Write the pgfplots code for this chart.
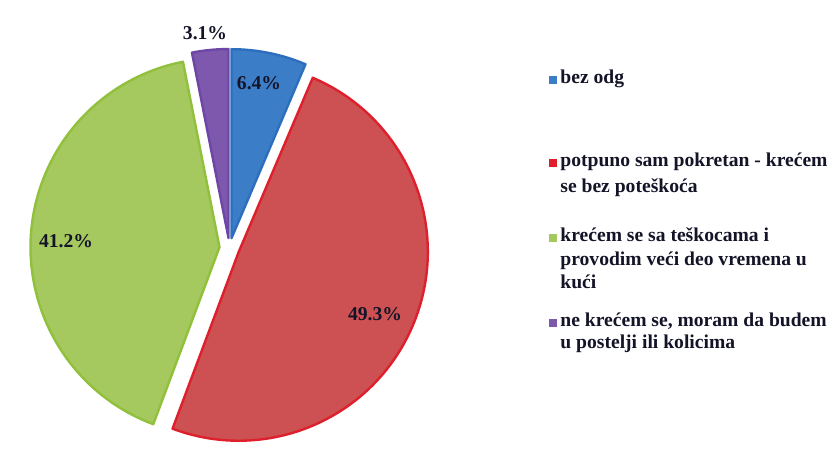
\documentclass[border=0pt]{standalone}
\usepackage{pgfplots}
\pgfplotsset{compat=1.18}
\usepackage{fontspec}
\setmainfont{Liberation Serif}
\usetikzlibrary{calc}
\definecolor{cblue}{RGB}{60,125,200}
\definecolor{cblueb}{RGB}{45,110,190}
\definecolor{cred}{RGB}{205,80,82}
\definecolor{credb}{RGB}{222,32,44}
\definecolor{cgreen}{RGB}{165,200,95}
\definecolor{cgreenb}{RGB}{145,192,60}
\definecolor{cpurple}{RGB}{125,88,172}
\definecolor{cpurpleb}{RGB}{110,70,165}
% pie geometry (in axis units = pixels)
\def\cx{229.5}
\def\cy{209}
\newcommand{\slice}[4]{%
  \pgfmathsetmacro\sa{90-3.6*(#1)}%
  \pgfmathsetmacro\sb{90-3.6*(#1+#2)}%
  \pgfmathsetmacro\sm{(\sa+\sb)/2}%
  \edef\temp{\noexpand\filldraw[fill=#3,draw=#4,line width=1.2pt,line join=round]
    ($(axis cs:\cx,\cy)+(\sm:5pt)$) -- ++(\sa:94.5pt)
    arc[start angle=\sa,end angle=\sb,radius=94.5pt] -- cycle;}%
  \temp}
\begin{document}
\begin{tikzpicture}
\begin{axis}[
  x=0.5pt, y=0.5pt,
  xmin=0, xmax=830, ymin=0, ymax=457,
  hide axis, clip=false,
]
\path (axis cs:0,0) rectangle (axis cs:830,457);
% data: bez odg 6.4, potpuno 49.3, teskoce 41.2, ne krecem 3.1
\slice{0}{6.4}{cblue}{cblueb}
\slice{6.4}{49.3}{cred}{credb}
\slice{55.7}{41.2}{cgreen}{cgreenb}
\slice{96.9}{3.1}{cpurple}{cpurpleb}
\begin{scope}[font=\fontsize{9.8}{12}\selectfont\bfseries, text={rgb,255:red,20;green,20;blue,40}]
\node at (axis cs:259,374) {6.4\%};
\node at (axis cs:375,143) {49.3\%};
\node at (axis cs:66,216) {41.2\%};
\node at (axis cs:205,424) {3.1\%};
% legend
\fill[cblue] (axis cs:549,373) rectangle (axis cs:557,381);
\fill[credb] (axis cs:549,290) rectangle (axis cs:557,298);
\fill[cgreen] (axis cs:549,215) rectangle (axis cs:557,223);
\fill[cpurple] (axis cs:549,130) rectangle (axis cs:557,138);
\node[anchor=base west,inner sep=0pt] at (axis cs:560,373) {bez odg};
\node[anchor=base west,inner sep=0pt] at (axis cs:560,290) {potpuno sam pokretan - krećem};
\node[anchor=base west,inner sep=0pt] at (axis cs:560,264) {se bez poteškoća};
\node[anchor=base west,inner sep=0pt] at (axis cs:560,215) {krećem se sa teškocama i};
\node[anchor=base west,inner sep=0pt] at (axis cs:560,191) {provodim veći deo vremena u};
\node[anchor=base west,inner sep=0pt] at (axis cs:560,168) {kući};
\node[anchor=base west,inner sep=0pt] at (axis cs:560,130) {ne krećem se, moram da budem};
\node[anchor=base west,inner sep=0pt] at (axis cs:560,108) {u postelji ili kolicima};
\end{scope}
\end{axis}
\end{tikzpicture}
\end{document}
